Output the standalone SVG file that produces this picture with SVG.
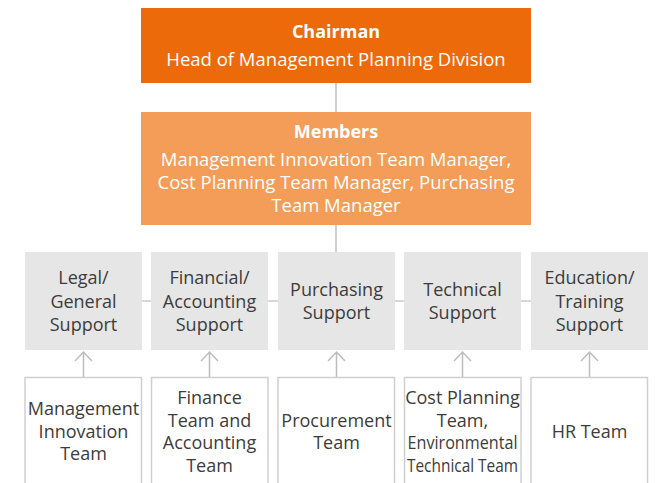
<svg xmlns="http://www.w3.org/2000/svg" width="655" height="483" viewBox="0 0 655 483">
<defs>
<style>
.t{font-family:"Open Sans","Noto Sans","Liberation Sans",sans-serif;text-anchor:middle}
.w{fill:#ffffff;font-size:18.5px}
.wb{fill:#ffffff;font-size:18px;font-weight:bold}
.g{fill:#3c3c3c;font-size:18px}
.sup{fill:#e6e6e6}
.team{fill:#ffffff;stroke:#cfcfcf;stroke-width:1.5}
.ln{stroke:#b0b0b0;stroke-width:1.2;fill:none}
.ar{stroke:#bdbdbd;stroke-width:1.5;fill:none}
</style>
</defs>
<g id="connectors">
<line class="ln" x1="336" y1="83" x2="336" y2="112"/>
<line class="ln" x1="336" y1="225" x2="336" y2="252"/>
<line class="ln" x1="83" y1="301" x2="589" y2="301"/>
<path class="ar" d="M83.5 377V352M75 361L83.5 352L92 361"/>
<path class="ar" d="M209.5 377V352M201 361L209.5 352L218 361"/>
<path class="ar" d="M336.5 377V352M328 361L336.5 352L345 361"/>
<path class="ar" d="M462.5 377V352M454 361L462.5 352L471 361"/>
<path class="ar" d="M589.5 377V352M581 361L589.5 352L598 361"/>
</g>
<g id="chairman">
<rect x="141" y="8" width="390" height="75" fill="#ec6a0a"/>
<text class="t wb" x="336" y="38">Chairman</text>
<text class="t w" x="336" y="66">Head of Management Planning Division</text>
</g>
<g id="members">
<rect x="141" y="112" width="390" height="113" fill="#f49d58"/>
<text class="t wb" x="336" y="138">Members</text>
<text class="t w" x="336" y="165.5">Management Innovation Team Manager,</text>
<text class="t w" x="336" y="188.5">Cost Planning Team Manager, Purchasing</text>
<text class="t w" x="336" y="212">Team Manager</text>
</g>
<g id="legal">
<rect class="sup" x="25" y="252" width="117" height="98"/>
<text class="t g" x="83.5" y="284">Legal/</text>
<text class="t g" x="83.5" y="307.5">General</text>
<text class="t g" x="83.5" y="330.5">Support</text>
</g>
<g id="financial">
<rect class="sup" x="151" y="252" width="117" height="98"/>
<text class="t g" x="209.5" y="284">Financial/</text>
<text class="t g" x="209.5" y="307.5">Accounting</text>
<text class="t g" x="209.5" y="330.5">Support</text>
</g>
<g id="purchasing">
<rect class="sup" x="278" y="252" width="117" height="98"/>
<text class="t g" x="336.5" y="296">Purchasing</text>
<text class="t g" x="336.5" y="319">Support</text>
</g>
<g id="technical">
<rect class="sup" x="404" y="252" width="117" height="98"/>
<text class="t g" x="462.5" y="296">Technical</text>
<text class="t g" x="462.5" y="319">Support</text>
</g>
<g id="education">
<rect class="sup" x="531" y="252" width="117" height="98"/>
<text class="t g" x="589.5" y="284">Education/</text>
<text class="t g" x="589.5" y="307.5">Training</text>
<text class="t g" x="589.5" y="330.5">Support</text>
</g>
<g id="mgmt-team">
<rect class="team" x="25" y="377.5" width="116.5" height="120"/>
<text class="t g" x="83.5" y="415">Management</text>
<text class="t g" x="83.5" y="438">Innovation</text>
<text class="t g" x="83.5" y="460">Team</text>
</g>
<g id="finance-team">
<rect class="team" x="151.5" y="377.5" width="116.5" height="120"/>
<text class="t g" x="209.5" y="404">Finance</text>
<text class="t g" x="209.5" y="427">Team and</text>
<text class="t g" x="209.5" y="449">Accounting</text>
<text class="t g" x="209.5" y="472">Team</text>
</g>
<g id="procurement-team">
<rect class="team" x="278" y="377.5" width="116.5" height="120"/>
<text class="t g" x="336.5" y="426.5">Procurement</text>
<text class="t g" x="336.5" y="449">Team</text>
</g>
<g id="cost-team">
<rect class="team" x="404.5" y="377.5" width="116.5" height="120"/>
<text class="t g" x="462.5" y="403.5">Cost Planning</text>
<text class="t g" x="462.5" y="426.5">Team,</text>
<text class="t g" x="462.5" y="449" textLength="110" lengthAdjust="spacingAndGlyphs">Environmental</text>
<text class="t g" x="462.5" y="472" textLength="111" lengthAdjust="spacingAndGlyphs">Technical Team</text>
</g>
<g id="hr-team">
<rect class="team" x="531" y="377.5" width="116.5" height="120"/>
<text class="t g" x="589.5" y="438">HR Team</text>
</g>
</svg>
